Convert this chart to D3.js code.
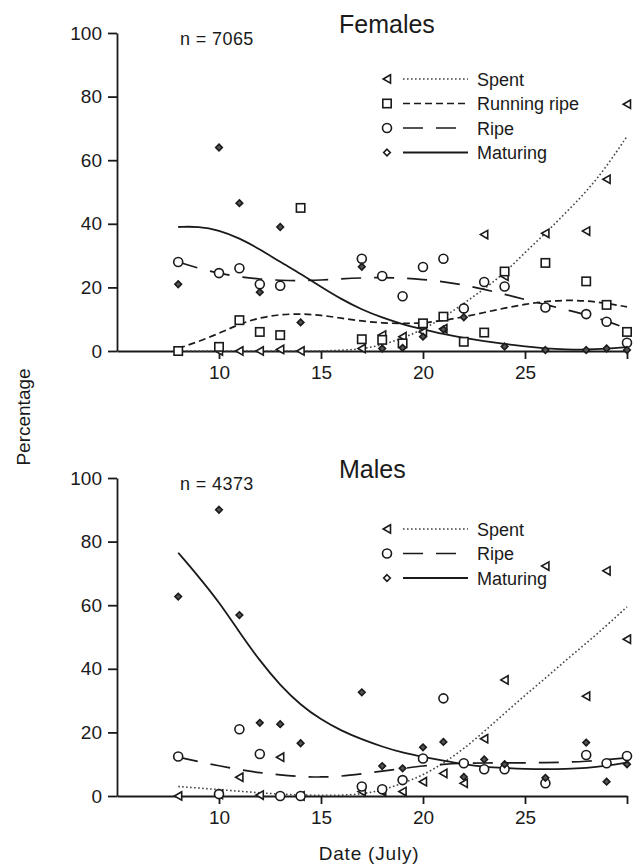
<!DOCTYPE html>
<html>
<head>
<meta charset="utf-8">
<script src="https://cdn.jsdelivr.net/npm/d3@7"></script>
<style>
  body { margin: 0; background: #fff; }
  svg text { font-family: "Liberation Sans", Arial, sans-serif; fill: #1a1a1a; }
  .axis path, .axis line { stroke: #1a1a1a; stroke-width: 1.8; }
  .axis text { font-size: 19px; }
</style>
</head>
<body>
<svg id="chart" width="641" height="868"></svg>
<script>
// sampling days (July)
const days = [8, 10, 11, 12, 13, 14, 17, 18, 19, 20, 21, 22, 23, 24, 26, 28, 29, 30];
const fitDays = [8, 9, 10, 11, 12, 13, 14, 15, 16, 17, 18, 19, 20, 21, 22, 23, 24, 25, 26, 27, 28, 29, 30];
const xTicks = [10, 15, 20, 25, 30];
const yTicks = [0, 20, 40, 60, 80, 100];

// Females - observed percentages
const femSpent    = [0, 0, 0, 0, 0.5, 0, 0.8, 5, 4.5, 6, 7, null, 36.6, 23.5, 37, 37.7, 54, 77.6];
const femRunning  = [0, 1.3, 9.7, 6, 5, 45, 3.7, 3.5, 2.4, 8.7, 10.8, 2.9, 5.8, 25, 27.7, 21.9, 14.5, 6];
const femRipe     = [28, 24.5, 26, 21, 20.5, null, 29, 23.6, 17.2, 26.4, 29, 13.4, 21.7, 20.3, 13.7, 11.6, 9.2, 2.6];
const femMaturing = [21, 64, 46.5, 18.5, 39, 9, 26.5, 0.8, 1, 4.5, 6.8, 10.6, null, 1.4, 0.3, 0.3, 0.8, 0.3];

// Females - fitted curves
const femSpentFit    = [0, 0, 0, 0, 0, 0, 0, 0, 0.2, 0.6, 1.9, 4, 6.8, 10.5, 15, 19.5, 24.5, 31, 37, 43.5, 50, 58, 67.5];
const femRunningFit  = [0.8, 3, 5.5, 8.5, 10.5, 11.5, 11.7, 11.3, 10.3, 9.4, 8.8, 8.6, 8.8, 9.6, 10.7, 12.1, 13.5, 14.7, 15.6, 16, 15.8, 15, 13.9];
const femRipeFit     = [28, 26, 24.4, 23.3, 22.6, 22.2, 22.1, 22.3, 22.7, 23, 23.1, 23, 22.5, 21.8, 20.8, 19.4, 17.8, 16.2, 14.6, 13, 11.4, 9.5, 7];
const femMaturingFit = [39, 39.2, 38, 35.5, 32, 28, 24.3, 20.2, 16.3, 13, 10.5, 8.4, 6.8, 5.3, 4.1, 3.1, 2.2, 1.4, 0.8, 0.5, 0.4, 0.7, 1.2];

// Males - observed percentages
const maleSpent    = [0, 0.5, 5.9, 0.3, 12.2, 0, 1.4, 1.4, 1.4, 4.5, 7.1, 4, 18, 36.5, 72.3, 31.4, 70.8, 49.3];
const maleRipe     = [12.4, 0.6, 21, 13.2, 0, 0, 3, 2.1, 5, 11.8, 30.7, 10.3, 8.4, 8.4, 4, 12.9, 10.3, 12.6];
const maleMaturing = [62.7, 90, 56.9, 23, 22.6, 16.6, 32.6, 9.4, 8.7, 15.3, 17, 6, 11.5, 10, 5.7, 16.8, 4.5, 10];

// Males - fitted curves
const maleSpentFit    = [3, 2.5, 2, 1.5, 1, 0.6, 0.3, 0.2, 0.2, 0.6, 1.8, 4, 6.5, 10.3, 14.8, 20.3, 26, 31.7, 37, 42.7, 48, 53.6, 59.5];
const maleRipeFit     = [12.2, 10.8, 9.5, 8.3, 7.3, 6.6, 6.1, 5.9, 6.2, 7, 7.8, 8.6, 9.5, 10, 10.3, 10.4, 10.4, 10.4, 10.5, 10.6, 10.9, 11.4, 12];
const maleMaturingFit = [76.5, 69, 61, 51.5, 42.5, 34.8, 28.6, 24, 20.5, 17.8, 15.5, 13.6, 12.3, 11.1, 10, 9.2, 8.8, 8.5, 8.4, 8.5, 8.8, 9.5, 10.5];

const stageNames = ["Spent", "Running ripe", "Ripe", "Maturing"];

const ink = "#1a1a1a";
const svg = d3.select("#chart");

const x = d3.scaleLinear().domain([5, 30]).range([117, 627]);

// line styles and markers per stage
const styles = {
  "Spent":        { dash: "1.6,2.4", width: 1.6, color: "#444", symbol: "tri" },
  "Running ripe": { dash: "7,4",     width: 1.7, color: ink,    symbol: "square" },
  "Ripe":         { dash: "20,13",   width: 1.7, color: ink,    symbol: "circle" },
  "Maturing":     { dash: null,      width: 1.8, color: ink,    symbol: "diamond" }
};

function drawSymbol(g, type, cx, cy, inLegend) {
  if (type === "tri") {
    g.append("path")
      .attr("d", `M${cx + 3.5},${cy - 4.2}L${cx - 3.8},${cy}L${cx + 3.5},${cy + 4.2}Z`)
      .attr("fill", "#fff").attr("stroke", ink).attr("stroke-width", 1.6);
  } else if (type === "square") {
    g.append("rect")
      .attr("x", cx - 4.2).attr("y", cy - 4.2).attr("width", 8.4).attr("height", 8.4)
      .attr("fill", "#fff").attr("stroke", ink).attr("stroke-width", 1.6);
  } else if (type === "circle") {
    g.append("circle")
      .attr("cx", cx).attr("cy", cy).attr("r", 4.5)
      .attr("fill", "#fff").attr("stroke", ink).attr("stroke-width", 1.6);
  } else {
    g.append("path")
      .attr("d", `M${cx},${cy - 3.3}L${cx + 3.3},${cy}L${cx},${cy + 3.3}L${cx - 3.3},${cy}Z`)
      .attr("fill", inLegend ? "#fff" : "#555").attr("stroke", ink).attr("stroke-width", 1.6);
  }
}

function drawPanel(opt) {
  const y = d3.scaleLinear().domain([0, 100]).range([opt.bottom, opt.bottom - 318]);
  const g = svg.append("g");

  // axes
  g.append("g")
    .attr("class", "axis")
    .attr("transform", `translate(${x(5)},0)`)
    .call(d3.axisLeft(y).tickValues(yTicks).tickSize(9).tickSizeOuter(0).tickPadding(6));

  g.append("g")
    .attr("class", "axis")
    .attr("transform", `translate(0,${y(0)})`)
    .call(d3.axisBottom(x).tickValues(xTicks).tickSize(8).tickSizeOuter(0).tickPadding(7)
      .tickFormat(d => d === 30 ? "" : d));

  // fitted curves
  const line = d3.line()
    .x((d, i) => x(fitDays[i]))
    .y(d => y(d))
    .curve(d3.curveBasis);

  opt.series.forEach(s => {
    const st = styles[s.name];
    g.append("path")
      .datum(s.fit)
      .attr("d", line)
      .attr("fill", "none")
      .attr("stroke", st.color)
      .attr("stroke-width", st.width)
      .attr("stroke-dasharray", st.dash);
  });

  // observed points
  opt.series.forEach(s => {
    const st = styles[s.name];
    s.obs.forEach((v, i) => {
      if (v === null) return;
      drawSymbol(g, st.symbol, x(days[i]), y(v), false);
    });
  });

  // title and sample size
  g.append("text")
    .attr("x", 339).attr("y", opt.bottom - 318)
    .style("font-size", "25px")
    .text(opt.title);

  g.append("text")
    .attr("x", 180).attr("y", opt.bottom - 306)
    .style("font-size", "18px")
    .style("letter-spacing", "0.4px")
    .text(opt.nLabel);

  // legend
  opt.series.forEach((s, i) => {
    const st = styles[s.name];
    const ly = opt.legendTop + i * 24.5;
    drawSymbol(g, st.symbol, 387, ly, true);
    g.append("line")
      .attr("x1", 403).attr("x2", 468)
      .attr("y1", ly).attr("y2", ly)
      .attr("stroke", st.color)
      .attr("stroke-width", st.width)
      .attr("stroke-dasharray", st.name === "Ripe" ? "22,12" : st.dash);
    g.append("text")
      .attr("x", 477).attr("y", ly + 6.5)
      .style("font-size", "18px")
      .text(s.name);
  });
}

drawPanel({
  bottom: 351,
  title: "Females",
  nLabel: "n = 7065",
  legendTop: 79,
  series: [
    { name: stageNames[0], obs: femSpent, fit: femSpentFit },
    { name: stageNames[1], obs: femRunning, fit: femRunningFit },
    { name: stageNames[2], obs: femRipe, fit: femRipeFit },
    { name: stageNames[3], obs: femMaturing, fit: femMaturingFit }
  ]
});

drawPanel({
  bottom: 796,
  title: "Males",
  nLabel: "n = 4373",
  legendTop: 529,
  series: [
    { name: stageNames[0], obs: maleSpent, fit: maleSpentFit },
    { name: stageNames[2], obs: maleRipe, fit: maleRipeFit },
    { name: stageNames[3], obs: maleMaturing, fit: maleMaturingFit }
  ]
});

// shared axis titles
svg.append("text")
  .attr("transform", "translate(30,417) rotate(-90)")
  .attr("text-anchor", "middle")
  .style("font-size", "19px")
  .text("Percentage");

svg.append("text")
  .attr("x", 369).attr("y", 860)
  .attr("text-anchor", "middle")
  .style("font-size", "19px")
  .style("letter-spacing", "0.8px")
  .text("Date (July)");
</script>
</body>
</html>
